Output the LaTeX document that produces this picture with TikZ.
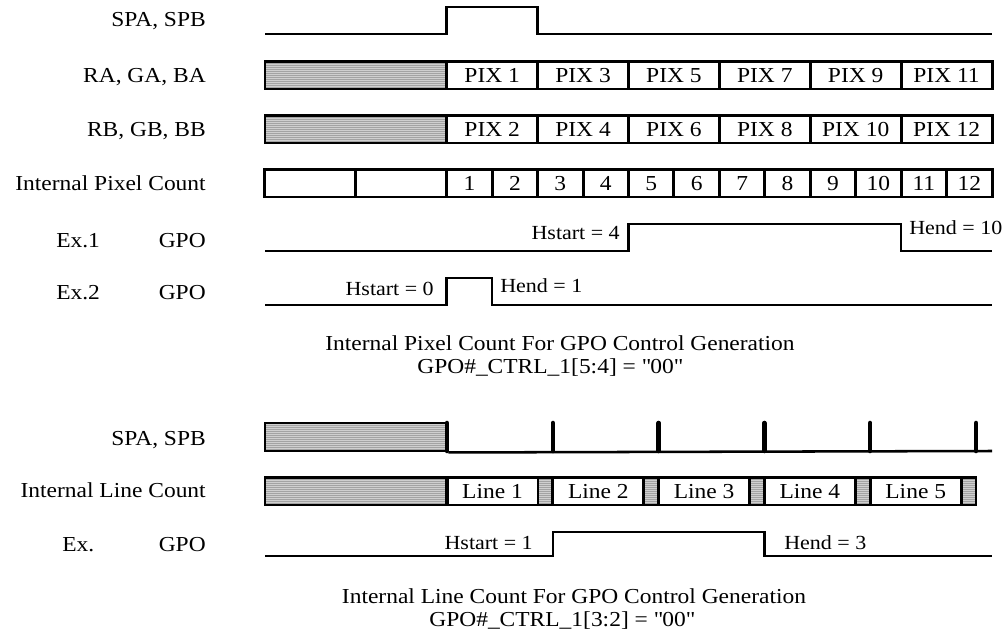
\documentclass[tikz,border=0pt]{standalone}
\usepackage{fontspec}
\setmainfont{Liberation Serif}[FakeStretch=1.1]
\usetikzlibrary{patterns.meta}
\tikzset{%
  % rows of cells
  cell/.style={draw, line width=2.2pt, inner sep=0pt, minimum height=20.6pt,
    minimum width=68.2pt, font=\fontsize{16}{18}\selectfont},
  halfcell/.style={cell, minimum width=34.1pt},
  blank/.style={cell, preaction={fill=gray!38},
    pattern={Lines[distance=1.5pt, line width=0.55pt]}, pattern color=gray!72},
  % signal styles
  wave/.style={line width=1.9pt, line join=miter},
  tick/.style={line width=3.4pt, line cap=round},
  % texts
  lab/.style={inner sep=0pt, anchor=base east, font=\fontsize{16}{18}\selectfont},
  hlab/.style={inner sep=0pt, font=\fontsize{15}{17}\selectfont},
  capt/.style={inner sep=0pt, anchor=base, font=\fontsize{16}{18}\selectfont},
}
\begin{document}
\begin{tikzpicture}[x=0.75pt, y=-0.75pt]
  \useasboundingbox (0,0) rectangle (1006,635);

  % pixel timing
  \node[lab] (spa) at (206,27) {SPA, SPB};
  \node[lab] (ra) at (206,83) {RA, GA, BA};
  \node[lab] (rb) at (206,136) {RB, GB, BB};
  \node[lab] (pixcnt) at (206,190) {Internal Pixel Count};
  \node[lab, anchor=base west] (ex1) at (56,247) {Ex.1};
  \node[lab] (gpo1) at (206,247) {GPO};
  \node[lab, anchor=base west] (ex2) at (56,299) {Ex.2};
  \node[lab] (gpo2) at (206,299) {GPO};

  \draw[wave] (265,34) -- (446.75,34) -- (446.75,7) -- (537.6,7) -- (537.6,34) -- (992,34);

  \node[blank, minimum width=136.4pt] (ra0) at (355.9,75.25) {};
  \node[blank, minimum width=136.4pt] (rb0) at (355.9,129.25) {};
  \foreach \i/\n in {1/1,2/3,3/5,4/7,5/9,6/11}
    \node[cell] (ra\i) at ({446.75+90.875*(\i-0.5)},75.25) {PIX \n};
  \foreach \i/\n in {1/2,2/4,3/6,4/8,5/10,6/12}
    \node[cell] (rb\i) at ({446.75+90.875*(\i-0.5)},129.25) {PIX \n};

  \node[cell] (pc0) at (310.3,183.25) {};
  \node[cell] (pc00) at (401.2,183.25) {};
  \foreach \k in {1,...,12}
    \node[halfcell] (pc\k) at ({446.75+45.44*(\k-0.5)},183.25) {\k};

  \draw[wave] (265,251) -- (628.5,251) -- (628.5,224) -- (901.1,224) -- (901.1,251) -- (992,251);
  \node[hlab, anchor=base east] (hs1) at (620,239) {Hstart = 4};
  \node[hlab, anchor=base west] (he1) at (909,234) {Hend = 10};

  \draw[wave] (265,305) -- (446.75,305) -- (446.75,278) -- (492.2,278) -- (492.2,305) -- (992,305);
  \node[hlab, anchor=base east] (hs2) at (434,295) {Hstart = 0};
  \node[hlab, anchor=base west] (he2) at (500,292) {Hend = 1};

  \node[capt] (cap1) at (560,350) {Internal Pixel Count For GPO Control Generation};
  \node[capt] (cap1b) at (550,373) {GPO\#\_CTRL\_1[5:4] = \textquotedbl 00\textquotedbl};

  % line timing
  \node[lab] (spb) at (206,445) {SPA, SPB};
  \node[lab] (lncnt) at (206,497) {Internal Line Count};
  \node[lab, anchor=base west] (ex3) at (62,551) {Ex.};
  \node[lab] (gpo3) at (206,551) {GPO};

  \node[blank, minimum width=136.4pt, minimum height=21pt] (sp0) at (355.9,437) {};
  \draw[wave] (sp0.south east) -- (992,451);
  \foreach \k in {0,...,5}
    \draw[tick] ({447+105.8*\k},423) -- ({447+105.8*\k},451);

  \node[blank, minimum width=136.4pt] (ln0) at (355.9,491.25) {};
  \foreach \k in {1,...,5} {
    \node[cell] (ln\k) at ({447+105.8*(\k-1)+45.5},491.25) {Line \k};
    \node[blank, minimum width=11.1pt] (gap\k) at ({447+105.8*(\k-1)+98.4},491.25) {};
  }

  \draw[wave] (265,556) -- (552.8,556) -- (552.8,532) -- (764.4,532) -- (764.4,556) -- (992,556);
  \node[hlab, anchor=base east] (hs3) at (533,549) {Hstart = 1};
  \node[hlab, anchor=base west] (he3) at (784,549) {Hend = 3};

  \node[capt] (cap2) at (574,603) {Internal Line Count For GPO Control Generation};
  \node[capt] (cap2b) at (562,626) {GPO\#\_CTRL\_1[3:2] = \textquotedbl 00\textquotedbl};
\end{tikzpicture}
\end{document}
